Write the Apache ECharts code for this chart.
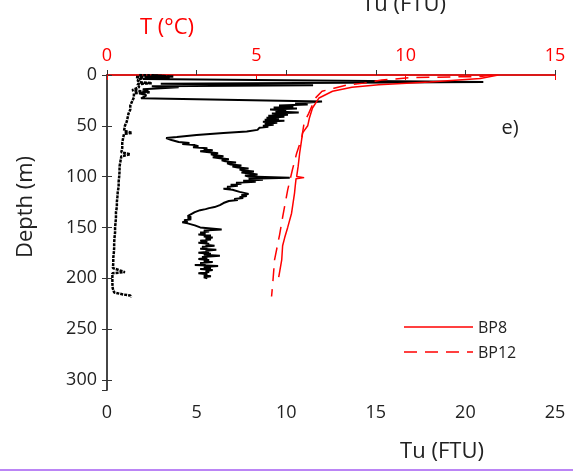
<!DOCTYPE html>
<html>
<head>
<meta charset="utf-8">
<script src="https://cdn.jsdelivr.net/npm/echarts@6/dist/echarts.min.js"></script>
<style>
  html, body { margin: 0; padding: 0; background: #fff; }
  #chart { width: 573px; height: 473px; }
</style>
</head>
<body>
<div id="chart"></div>
<script>
// Depth ticks (m) and axis ranges
const depthTicks = [0, 50, 100, 150, 200, 250, 300];
const tuTicks = [0, 5, 10, 15, 20, 25];
const tempTicks = [0, 5, 10, 15];
const legendNames = ['BP8', 'BP12'];

// Turbidity profiles: [Tu (FTU), depth (m)]
const tuLowProfile = [
  [1.8,0],[3.7,1.5],[1.6,2],[2.0,3],[1.7,5],[1.8,7],[2.5,8],[1.7,9],[1.8,12],[1.4,15],
  [2.4,17],[1.5,18],[1.5,22],[1.4,26],[1.3,30],[1.3,34],[1.2,38],[1.15,42],[1.1,46],[1.0,50],
  [0.95,55],[1.4,57],[0.95,58],[0.9,62],[0.85,67],[0.85,72],[0.8,76],[1.3,78],[0.8,80],[0.75,85],
  [0.7,90],[0.7,95],[0.68,100],[0.65,105],[0.65,110],[0.6,115],[0.58,120],[0.55,125],[0.55,130],[0.5,135],
  [0.5,140],[0.48,145],[0.45,150],[0.45,155],[0.42,160],[0.4,165],[0.4,170],[0.38,175],[0.35,180],[0.35,185],
  [0.33,190],[1.0,194],[0.3,195],[0.3,200],[0.3,205],[0.32,210],[0.4,214],[0.9,216],[1.3,217],[1.35,219]
];
const tuHighProfile = [
  [2.5,0],[3.2,1],[2.2,2],[3.5,3],[2.0,4],[21.0,7],[3.0,8.5],[11.5,10],[2.5,11],[4.0,12],
  [2.0,14],[2.3,16],[1.8,18],[2.2,20],[1.9,23],[12.0,26],
  [10.5,28],[11.2,29],[9.6,30],[10.4,31],[9.3,32],[10.6,33],[9.1,34],[10.0,35],[9.4,36],[10.7,37],
  [9.2,38],[10.1,39],[9.0,40],[9.9,41],[8.9,42],[9.6,43],[8.8,44],[9.9,45],[8.7,46],[9.5,47],
  [8.8,48],[9.3,49],[8.7,50],[9.0,51],[8.5,52],[8.6,53],[8.4,54],
  [7.8,55.5],[6.5,57],[5.0,59],[3.9,61],[3.3,62],[3.6,64],
  [4.0,66],[4.6,67],[4.2,68],[4.9,69],[5.1,70],[4.8,71],[5.6,72],[5.4,73],[5.9,74],[5.2,75],
  [5.7,76],[6.2,77],[5.8,78],[6.0,79],[6.5,80],[5.9,81],[6.3,82],[6.8,83],[6.4,84],[6.6,85],
  [7.2,86],[6.7,87],[6.9,88],[7.5,89],[7.0,90],[7.3,91],[7.9,92],[7.4,93],[7.6,94],[8.2,95],
  [7.5,96],[8.0,97],[8.4,98],[7.7,99],[7.9,100],[10.2,101],[7.9,102],[8.7,103],[7.6,104],[8.3,105],
  [7.2,106],[7.5,107],[6.9,108],[7.3,109],[6.7,110],[6.9,111],[6.5,112],[7.0,113],[6.9,114],[7.4,115],
  [7.3,116],[7.9,117],[7.5,118],[7.8,119],[7.4,120],[7.6,121],[7.1,122],[7.3,123],[6.8,124],[6.9,125],
  [6.5,126],[6.3,128],[6.0,130],[5.7,131],[5.5,132],[5.2,133],[5.3,134],[4.9,135],[5.0,136],[4.7,137],
  [4.8,138],[4.5,139],[4.7,140],[4.5,141],[4.7,142],[4.3,143],[4.5,144],[4.2,145],[4.5,146],[4.4,147],
  [4.9,148],[4.8,149],
  [5.2,150],[5.8,151],[6.4,152],[5.4,153],[5.7,154],[5.2,155],[5.5,156],[5.1,157],[5.8,158],[5.4,159],
  [5.9,160],[5.5,161],[5.8,162],[5.2,163],[5.6,164],[5.1,165],[5.7,166],[5.5,167],[6.0,168],[5.3,169],
  [5.6,170],[5.2,171],[6.1,172],[5.5,173],[5.7,174],[5.1,175],[5.8,176],[5.4,177],[6.3,178],[5.3,179],
  [5.6,180],[5.1,181],[5.7,182],[5.4,183],[5.9,184],[5.2,185],[5.5,186],[4.9,187],[6.2,188],[5.4,189],
  [5.8,190],[5.2,191],[5.9,192],[5.5,193],[5.7,194],[5.1,195],[5.6,196],[5.4,197],[5.8,198],[5.4,199],
  [5.6,200]
];

// Temperature profiles: [T (°C), depth (m)]
const tempBP8 = [
  [13.1,0],[12.5,3.5],[10.8,6.9],[9.1,9.5],[8.2,12],[7.55,16],[7.1,22.6],[6.88,32.5],[6.78,42],[6.72,50],
  [6.55,57],[6.5,67],[6.45,77],[6.4,90],[6.35,100],[6.6,101],[6.33,102],[6.3,110],[6.28,116],[6.18,136],
  [6.05,150],[5.95,160],[5.88,168],[5.85,182],[5.75,199]
];
const tempBP12 = [
  [12.9,0],[12.5,1.5],[10.2,2.5],[9.2,5],[8.6,8],[8.0,10],[7.6,13],[7.2,16],[7.0,22],[6.9,28],
  [6.75,38],[6.6,47],[6.52,62],[6.35,77],[6.21,93],[6.05,113],[5.88,140],[5.78,157],[5.61,182],[5.55,205],
  [5.51,218]
];

const FONT = '"Open Sans", "Noto Sans", sans-serif';
const RED = '#ff0000';
const DASH = [13, 8];
const chart = echarts.init(document.getElementById('chart'), null, { renderer: 'canvas' });

const axisTextColor = '#222';
const frameColor = '#333';

// Legend keys drawn as plain line + label pairs
function legendEntry(name, y, dash) {
  return [
    {
      type: 'line', shape: { x1: 404, y1: y, x2: 473, y2: y },
      style: { stroke: RED, lineWidth: 1.5, lineDash: dash }
    },
    {
      type: 'text', x: 478, y: y + 1,
      style: { text: name, fill: axisTextColor, font: '16px ' + FONT, textAlign: 'left', textVerticalAlign: 'middle' }
    }
  ];
}

chart.setOption({
  animation: false,
  backgroundColor: '#fff',
  grid: { left: 107, right: 18, top: 75, bottom: 83, containLabel: false },
  xAxis: [
    {
      type: 'value', position: 'bottom', min: tuTicks[0], max: tuTicks[tuTicks.length - 1], interval: 5,
      axisLine: { show: true, lineStyle: { color: frameColor, width: 1.5 } },
      axisTick: { show: true, inside: true, length: 5, lineStyle: { color: frameColor } },
      axisLabel: { margin: 14, fontFamily: FONT, fontSize: 18, color: axisTextColor },
      splitLine: { show: false }
    },
    {
      type: 'value', position: 'top', min: tempTicks[0], max: tempTicks[tempTicks.length - 1], interval: 5,
      axisLine: { show: true, lineStyle: { color: RED, width: 1.5 } },
      axisTick: { show: true, inside: true, length: 5, lineStyle: { color: RED } },
      axisLabel: { margin: 10, fontFamily: FONT, fontSize: 18, color: RED },
      splitLine: { show: false }
    }
  ],
  yAxis: [
    {
      type: 'value', inverse: true, min: 0, max: 310, interval: 50, position: 'left',
      axisLine: { show: true, lineStyle: { color: '#555', width: 1.5 } },
      axisTick: { show: true, inside: true, length: 5, lineStyle: { color: frameColor } },
      axisLabel: {
        margin: 10, fontFamily: FONT, fontSize: 18, color: axisTextColor, showMaxLabel: false,
        formatter: v => (depthTicks.includes(v) ? String(v) : '')
      },
      splitLine: { show: false }
    },
    {
      type: 'value', inverse: true, min: 0, max: 310, interval: 50, position: 'right',
      axisLine: { show: true, lineStyle: { color: frameColor, width: 1.5 } },
      axisTick: { show: true, inside: true, length: 5, lineStyle: { color: frameColor } },
      axisLabel: { show: false },
      splitLine: { show: false }
    }
  ],
  series: [
    {
      name: 'Tu low', type: 'line', xAxisIndex: 0, yAxisIndex: 0, data: tuLowProfile,
      symbol: 'none', showSymbol: false, silent: true,
      lineStyle: { color: '#000', width: 2.5, type: [3, 1] }
    },
    {
      name: 'Tu high', type: 'line', xAxisIndex: 0, yAxisIndex: 0, data: tuHighProfile,
      symbol: 'none', showSymbol: false, silent: true,
      lineStyle: { color: '#000', width: 2 }
    },
    {
      name: legendNames[0], type: 'line', xAxisIndex: 1, yAxisIndex: 0, data: tempBP8,
      symbol: 'none', showSymbol: false, silent: true,
      lineStyle: { color: RED, width: 1.5 }
    },
    {
      name: legendNames[1], type: 'line', xAxisIndex: 1, yAxisIndex: 0, data: tempBP12,
      symbol: 'none', showSymbol: false, silent: true,
      lineStyle: { color: RED, width: 1.5, type: DASH }
    }
  ],
  graphic: [
    ...legendEntry(legendNames[0], 327, null),
    ...legendEntry(legendNames[1], 352, DASH),
    {
      type: 'text', x: 167, y: 28,
      style: { text: 'T (°C)', fill: RED, font: '22px ' + FONT, textAlign: 'center', textVerticalAlign: 'middle' }
    },
    {
      type: 'text', x: 404, y: 5,
      style: { text: 'Tu (FTU)', fill: axisTextColor, font: '22px ' + FONT, textAlign: 'center', textVerticalAlign: 'middle' }
    },
    {
      type: 'text', x: 442, y: 452,
      style: { text: 'Tu (FTU)', fill: axisTextColor, font: '22px ' + FONT, textAlign: 'center', textVerticalAlign: 'middle' }
    },
    {
      type: 'text', x: 26, y: 207, rotation: Math.PI / 2,
      style: { text: 'Depth (m)', fill: axisTextColor, font: '22px ' + FONT, textAlign: 'center', textVerticalAlign: 'middle' }
    },
    {
      type: 'text', x: 510, y: 128,
      style: { text: 'e)', fill: axisTextColor, font: '20px ' + FONT, textAlign: 'center', textVerticalAlign: 'middle' }
    },
    {
      type: 'line', shape: { x1: 0, y1: 470, x2: 573, y2: 470 },
      style: { stroke: '#a55cf2', lineWidth: 1.5 }
    }
  ]
});
</script>
</body>
</html>
